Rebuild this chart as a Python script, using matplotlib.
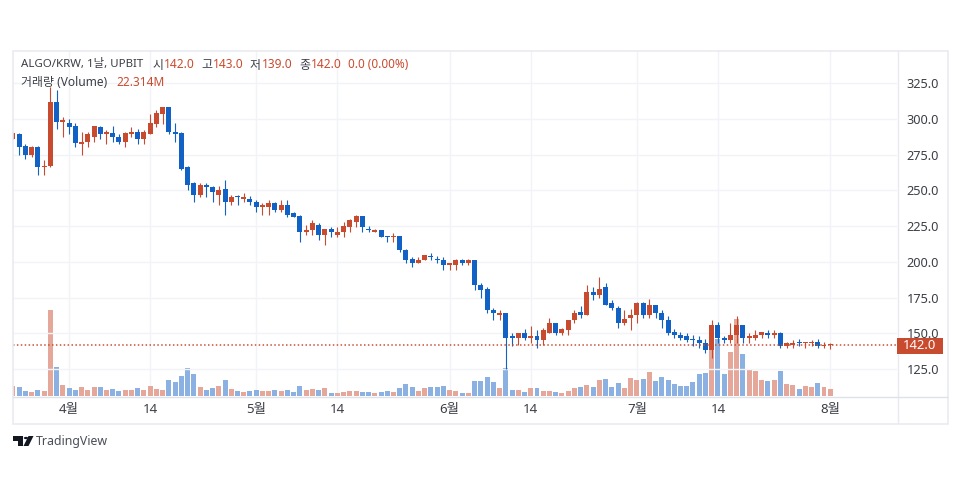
import numpy as np
from matplotlib import pyplot as plt
from matplotlib.patches import Polygon, Rectangle

# ALGO/KRW daily candles
opens = [286, 289, 281, 275, 280, 266, 267, 312, 298, 297, 295, 282, 284, 287, 294, 289, 290, 287, 284, 289,
         291, 286, 289, 296, 303, 308, 291, 290, 266, 255, 247, 254, 252, 247, 251, 242, 246, 244, 244, 242,
         238, 238, 241, 236, 240, 234, 232, 221, 222, 226, 219, 223, 219, 221, 224, 228, 232, 223, 221, 222,
         218, 217, 218, 208, 202, 199, 201, 204, 202, 201, 198, 198, 201, 199, 201, 184, 181, 166, 163, 164,
         148, 147, 150, 147, 148, 145, 150, 157, 150, 152, 159, 165, 163, 179, 177, 182, 171, 168, 157, 161,
         163, 171, 163, 170, 164, 159, 151, 149, 148, 146, 145, 143, 138, 156, 147, 145, 149, 156, 147, 147,
         149, 150, 149, 150, 141, 142, 144, 143, 143, 144, 141, 142]
highs = [290, 290, 282, 281, 281, 271, 322, 320, 301, 300, 297, 291, 291, 295, 295, 292, 295, 289, 291, 294,
         293, 292, 303, 306, 308, 308, 297, 291, 267, 256, 255, 255, 253, 253, 257, 247, 247, 248, 246, 243,
         241, 243, 242, 243, 243, 235, 233, 226, 229, 227, 223, 224, 224, 228, 230, 233, 232, 225, 223, 222,
         218, 220, 218, 209, 203, 203, 205, 206, 204, 203, 199, 202, 202, 202, 201, 185, 182, 168, 166, 164,
         150, 150, 153, 155, 152, 154, 161, 157, 154, 159, 166, 169, 184, 182, 189, 185, 173, 169, 166, 167,
         172, 172, 174, 170, 166, 162, 153, 151, 150, 149, 148, 146, 159, 158, 148, 157, 162, 156, 150, 152,
         151, 152, 152, 151, 144, 145, 146, 144, 145, 146, 144, 143]
lows = [286, 275, 272, 273, 261, 261, 266, 293, 287, 289, 280, 275, 280, 284, 286, 282, 284, 282, 280, 287,
        282, 282, 289, 294, 296, 289, 284, 264, 250, 242, 245, 245, 242, 240, 233, 240, 240, 242, 240, 235,
        233, 233, 235, 235, 231, 231, 214, 219, 219, 215, 212, 217, 217, 217, 221, 224, 221, 221, 221, 217,
        214, 214, 207, 199, 196, 199, 201, 201, 199, 194, 194, 194, 198, 198, 180, 175, 164, 159, 159, 125,
        141, 142, 145, 143, 140, 142, 150, 149, 149, 149, 157, 161, 163, 173, 175, 170, 166, 154, 156, 152,
        157, 161, 161, 161, 154, 149, 147, 145, 144, 141, 140, 136, 133, 143, 143, 143, 143, 143, 143, 145,
        147, 147, 147, 140, 140, 140, 141, 140, 141, 140, 140, 139]
closes = [290, 280, 275, 280, 266, 267, 312, 298, 299, 294, 283, 284, 289, 295, 289, 291, 287, 284, 290, 291,
          286, 291, 297, 304, 308, 291, 289, 265, 254, 247, 254, 252, 249, 250, 242, 245, 245, 245, 242, 238,
          240, 241, 236, 240, 233, 231, 221, 222, 227, 219, 223, 221, 221, 225, 229, 232, 224, 222, 222, 217,
          217, 218, 208, 201, 199, 201, 205, 203, 201, 198, 199, 201, 199, 201, 184, 180, 166, 164, 164, 147,
          147, 150, 147, 148, 145, 152, 157, 150, 153, 159, 164, 163, 179, 177, 181, 170, 168, 157, 160, 163,
          171, 163, 170, 164, 159, 150, 149, 147, 145, 145, 143, 138, 156, 147, 145, 149, 156, 147, 147, 149,
          151, 149, 150, 141, 143, 143, 143, 143, 144, 141, 142, 142]
# Volume in millions
volumes = [31.9, 28.7, 15.9, 12.8, 19.1, 15.9, 274.2, 92.4, 35.1, 25.5, 19.1, 28.7, 19.1, 28.7, 28.7, 19.1, 22.3,
           15.9, 19.1, 19.1, 25.5, 19.1, 31.9, 22.3, 19.1, 51.0, 44.6, 63.8, 89.3, 70.1, 28.7, 19.1, 25.5, 31.9,
           51.0, 22.3, 15.9, 12.8, 15.9, 19.1, 15.9, 15.9, 19.1, 15.9, 19.1, 12.8, 31.9, 19.1, 22.3, 19.1, 25.5,
           9.6, 9.6, 12.8, 15.9, 15.9, 12.8, 12.8, 9.6, 12.8, 15.9, 12.8, 25.5, 38.3, 28.7, 15.9, 25.5, 28.7, 28.7,
           31.9, 19.1, 15.9, 9.6, 9.6, 47.8, 47.8, 60.6, 44.6, 25.5, 89.3, 19.1, 19.1, 12.8, 25.5, 25.5, 15.9, 15.9,
           12.8, 9.6, 15.9, 25.5, 28.7, 35.1, 28.7, 51.0, 54.2, 28.7, 41.4, 25.5, 57.4, 51.0, 54.2, 76.5, 47.8, 60.6,
           51.0, 38.3, 31.9, 31.9, 44.6, 70.1, 73.3, 190.0, 181.7, 70.1, 140.3, 245.5, 133.9, 82.9, 79.7, 51.0, 47.8,
           51.0, 79.7, 38.3, 35.1, 22.3, 31.9, 28.7, 41.4, 28.7, 22.3]

price_ticks = [125, 150, 175, 200, 225, 250, 275, 300, 325]
time_tick_days = [9, 22, 39, 52, 70, 83, 100, 113, 131]
time_tick_labels = ['4월', '14', '5월', '14', '6월', '14', '7월', '14', '8월']
last_price = 142.0

RED = '#c94b2f'
BLUE = '#1261c4'
RED_VOL = '#e5a598'
BLUE_VOL = '#89b0e2'
GRID = '#f1f3f8'
BORDER = '#e8eaf2'
TEXT = '#3c3f47'
px = 1 / 100 * 72  # one pixel in points

plt.rcParams['font.family'] = ['Noto Sans', 'Noto Sans CJK KR', 'DejaVu Sans']
fig = plt.figure(figsize=(9.6, 5.0), dpi=100)


def fig_x(x):
    return x / 960


def fig_y(y):
    return 1 - y / 500


def text_at(x, y, s, color=TEXT, size=8.6, **kw):
    fig.text(fig_x(x), fig_y(y), s, color=color, fontsize=size, va='center', **kw)


# plot area in pixels: x 13..897, y 51..396
vol_ax = fig.add_axes([fig_x(13), fig_y(396), (897 - 13) / 960, (396 - 51) / 500])
ax = vol_ax.twinx()
x = np.arange(len(opens))
o = np.array(opens, dtype=float)
h = np.array(highs, dtype=float)
l = np.array(lows, dtype=float)
c = np.array(closes, dtype=float)
up = c >= o
colors = np.where(up, RED, BLUE)

vol_ax.set_xlim(0.016, 141.7)
vol_ax.set_ylim(0, 345 * 22.314 / 7)
vol_ax.bar(x, volumes, width=0.8, color=np.where(up, RED_VOL, BLUE_VOL), linewidth=0, alpha=0.98, zorder=2)
for tick in time_tick_days:
    vol_ax.axvline(tick, color=GRID, lw=1.4 * px, zorder=1)
vol_ax.set_xticks(time_tick_days)
vol_ax.set_xticklabels(time_tick_labels, color=TEXT, fontsize=9.6)
vol_ax.tick_params(axis='x', length=0, pad=5)
vol_ax.set_yticks([])

ax.set_ylim(325 - 313 / 1.43, 325 + 32 / 1.43)
ax.set_yticks(price_ticks)
ax.set_yticklabels([f'{p:.1f}' for p in price_ticks], color=TEXT, fontsize=9.2)
ax.tick_params(axis='y', length=0, pad=7)
ax.grid(axis='y', color=GRID, lw=1.4 * px, zorder=1)
ax.set_axisbelow(True)
ax.patch.set_visible(False)
vol_ax.patch.set_visible(False)

# candles
ax.vlines(x, l, h, color=colors, lw=1.1 * px, zorder=3)
ax.bar(x, np.maximum(np.abs(c - o), 0.8), bottom=np.minimum(o, c), width=0.8, color=colors, linewidth=0, zorder=4)
ax.axhline(last_price, color=RED, lw=1.5 * px, linestyle=(0, (1, 1.6)), zorder=5)

for side in ['top', 'left', 'right', 'bottom']:
    vol_ax.spines[side].set_visible(False)
    ax.spines[side].set_visible(False)

# chart frame and axis dividers
fig.add_artist(Rectangle((fig_x(12.5), fig_y(423.5)), 935 / 960, 373 / 500, transform=fig.transFigure,
                         fill=False, edgecolor=BORDER, lw=1.6 * px))
fig.add_artist(plt.Line2D([fig_x(897.5)] * 2, [fig_y(51), fig_y(423)], color=BORDER, lw=1.4 * px))
fig.add_artist(plt.Line2D([fig_x(13), fig_x(947)], [fig_y(396.5)] * 2, color='#dfe1e8', lw=1.4 * px))

# last price label
fig.add_artist(Rectangle((fig_x(897), fig_y(353.5)), 46 / 960, 16 / 500, transform=fig.transFigure,
                         facecolor=RED, edgecolor='none', zorder=6))
text_at(920, 345.5, '142.0', color='white', size=9.4, ha='center', fontweight='bold', zorder=7)

# header
text_at(21, 65, 'ALGO/KRW, 1날, UPBIT', size=8.25)
for lx, label, vx, val in [(153, '시', 164, '142.0'), (201, '고', 213, '143.0'),
                           (250, '저', 262, '139.0'), (299, '종', 311, '142.0')]:
    text_at(lx, 65, label)
    text_at(vx, 65, val, color=RED)
text_at(348, 65, '0.0 (0.00%)', color=RED, size=8.45)
text_at(21, 83, '거래량 (Volume)')
text_at(116, 83, '22.314M', color=RED)

# TradingView logo and name
logo = '#131722'
for pts in [[(13, 436), (23, 436), (23, 446), (18, 446), (18, 440.5), (13, 440.5)],
            [(28.5, 436), (33.5, 436), (28.5, 446), (23.5, 446)]]:
    fig.add_artist(Polygon([(fig_x(a), fig_y(b)) for a, b in pts], closed=True, transform=fig.transFigure,
                           facecolor=logo, edgecolor='none'))
fig.add_artist(plt.Circle((fig_x(26), fig_y(438)), 2.2 / 960, transform=fig.transFigure, facecolor=logo,
                          edgecolor='none'))
text_at(36, 441.5, 'TradingView', color='#4a4e57', size=8.9)

fig.savefig('out.png', dpi=100)
